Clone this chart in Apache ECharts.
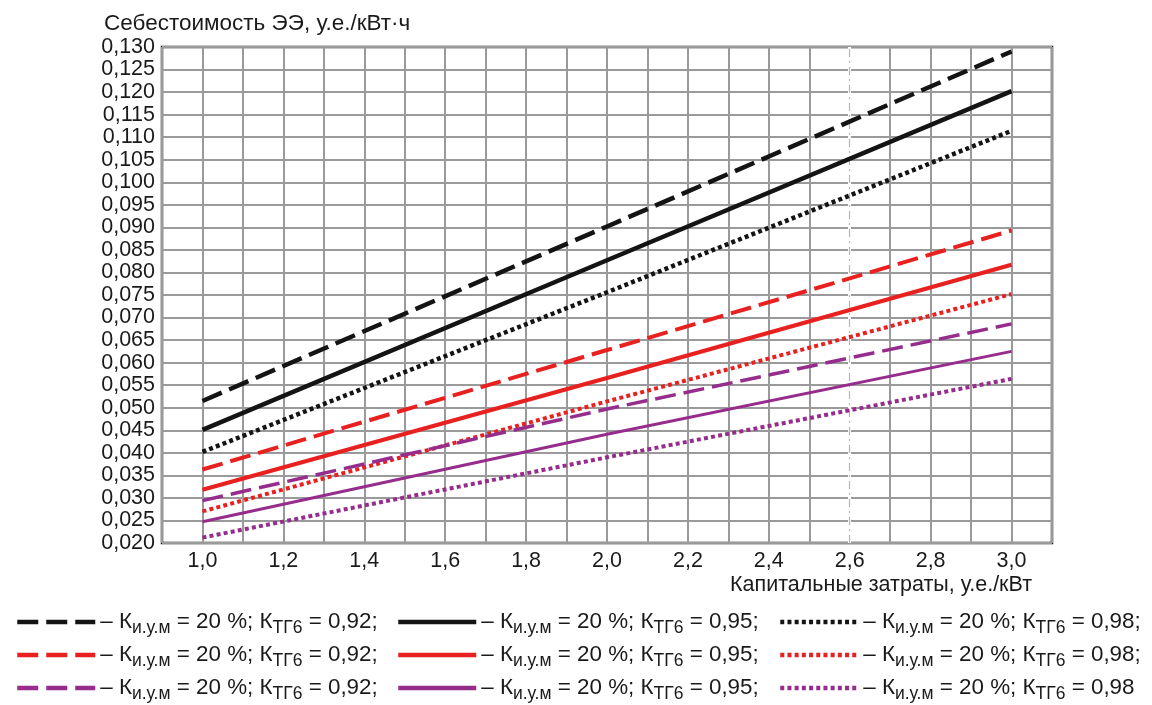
<!DOCTYPE html>
<html>
<head>
<meta charset="utf-8">
<script src="https://cdn.jsdelivr.net/npm/echarts@6/dist/echarts.min.js"></script>
<style>
  html, body { margin: 0; padding: 0; background: #fff; }
  #chart { width: 1152px; height: 705px; }
</style>
</head>
<body>
<div id="chart"></div>
<script>
// capital cost, y.e./kW
const xValues = [1.0, 2.0, 3.0];

// cost of electricity, y.e./kWh
const blackDashed = [0.0515, 0.0902, 0.1290];
const blackSolid  = [0.0451, 0.0827, 0.1202];
const blackDotted = [0.0402, 0.0756, 0.1114];
const redDashed   = [0.0363, 0.0628, 0.0893];
const redSolid    = [0.0318, 0.0566, 0.0817];
const redDotted   = [0.0270, 0.0514, 0.0752];
const purpleDashed = [0.0294, 0.0497, 0.0686];
const purpleSolid  = [0.0247, 0.0441, 0.0625];
const purpleDotted = [0.0212, 0.0390, 0.0564];

const ktg = { d: '0,92;', s: '0,95;', t: '0,98;' };

const BLACK = '#141414';
const RED = '#e8201f';
const PURPLE = '#962d8c';
const FONT = 'Liberation Sans';
const TXT = '#1a1a1a';

function pts(arr) {
  return xValues.map((x, i) => [x, arr[i]]);
}

function line(name, arr, color, type, width) {
  return {
    name: name,
    type: 'line',
    data: pts(arr),
    symbol: 'none',
    silent: true,
    lineStyle: { color: color, type: type, width: width, cap: 'butt' },
    itemStyle: { color: color },
    z: 3
  };
}

const DASH = [21, 8];
const DOT = [4, 3.2];

const series = [
  line('bd', blackDashed, BLACK, DASH, 4.5),
  line('bs', blackSolid, BLACK, 'solid', 4.5),
  line('bt', blackDotted, BLACK, DOT, 4.5),
  line('rd', redDashed, RED, DASH, 4),
  line('rs', redSolid, RED, 'solid', 4),
  line('rt', redDotted, RED, DOT, 4),
  line('pd', purpleDashed, PURPLE, DASH, 3.5),
  line('ps', purpleSolid, PURPLE, 'solid', 3),
  line('pt', purpleDotted, PURPLE, DOT, 4)
];

// light dash-dot gridline at 2,6
series[0].markLine = {
  silent: true,
  symbol: 'none',
  z: 1,
  label: { show: false },
  data: [
    { xAxis: 2.6, lineStyle: { color: '#ffffff', width: 3, type: 'solid' } },
    { xAxis: 2.6, lineStyle: { color: '#b5b5b5', width: 1.2, type: [8, 4, 2, 4] } }
  ]
};

function legendText(name) {
  const k = ktg[name[1]];
  const tail = name === 'pt' ? '0,98' : k;
  return '– К{s|и.у.м} = 20 %; К{s|ТГ6} = ' + tail;
}

const legendStyle = {
  fontFamily: FONT,
  fontSize: 22.4,
  color: TXT,
  lineHeight: 24,
  rich: {
    s: { fontFamily: FONT, fontSize: 17.5, color: TXT, lineHeight: 24, padding: [12, 0, 0, 0] }
  }
};

const legendCols = [10, 391, 773];
const legendRows = [602, 635, 668];
const legendGrid = [
  ['bd', 'bs', 'bt'],
  ['rd', 'rs', 'rt'],
  ['pd', 'ps', 'pt']
];

const legends = [];
legendGrid.forEach((row, r) => {
  row.forEach((name, c) => {
    legends.push({
      left: legendCols[c],
      top: legendRows[r],
      itemWidth: 78,
      itemHeight: 0.5,
      selectedMode: false,
      data: [name],
      formatter: legendText,
      itemStyle: { borderWidth: 0, opacity: 0 },
      lineStyle: { width: 4.5 },
      textStyle: legendStyle
    });
  });
});

const chart = echarts.init(document.getElementById('chart'));

const option = {
  animation: false,
  backgroundColor: '#ffffff',
  title: {
    text: 'Себестоимость ЭЭ, у.е./кВт·ч',
    left: 99,
    top: 7,
    textStyle: { fontFamily: FONT, fontSize: 22.5, fontWeight: 'normal', color: TXT }
  },
  grid: {
    left: 162,
    right: 100,
    top: 47,
    bottom: 162,
    show: true,
    borderColor: '#1a1a1a',
    borderWidth: 2.5,
    backgroundColor: 'transparent'
  },
  xAxis: {
    type: 'value',
    min: 0.9,
    max: 3.1,
    interval: 0.1,
    name: 'Капитальные затраты, у.е./кВт',
    nameLocation: 'end',
    nameGap: -20,
    nameTextStyle: {
      fontFamily: FONT, fontSize: 21.5, color: TXT,
      align: 'right', verticalAlign: 'top', padding: [31, 0, 0, 0]
    },
    axisLine: { show: false },
    axisTick: { show: false },
    axisLabel: {
      margin: 7,
      fontFamily: FONT,
      fontSize: 21.5,
      color: TXT,
      showMinLabel: true,
      showMaxLabel: true,
      formatter: function (v) {
        const t = Math.round(v * 10);
        if (t % 2 !== 0) return '';
        return (t / 10).toFixed(1).replace('.', ',');
      }
    },
    splitLine: { show: true, lineStyle: { color: '#9a9a9a', width: 2 } }
  },
  yAxis: {
    type: 'value',
    min: 0.02,
    max: 0.13,
    interval: 0.005,
    axisLine: { show: false },
    axisTick: { show: false },
    axisLabel: {
      margin: 7,
      fontFamily: FONT,
      fontSize: 21.5,
      color: TXT,
      formatter: function (v) {
        return (Math.round(v * 1000) / 1000).toFixed(3).replace('.', ',');
      }
    },
    splitLine: { show: true, lineStyle: { color: '#9a9a9a', width: 2 } }
  },
  legend: legends,
  series: series
};

chart.setOption(option);
</script>
</body>
</html>
